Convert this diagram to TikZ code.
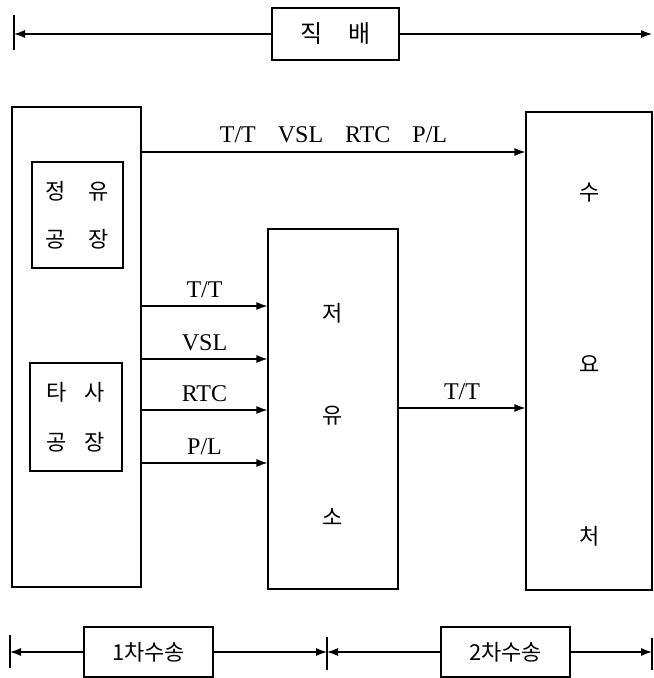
\documentclass[tikz,border=0pt]{standalone}
\usepackage{fontspec}
\setmainfont{Liberation Serif}
\newfontfamily\kr{Noto Sans CJK KR}
\usetikzlibrary{arrows.meta}

\begin{document}
\begin{tikzpicture}[
    x=0.5pt, y=-0.5pt,
    line width=0.6pt,
    % Boxes holding Korean text
    box/.style={
        draw,
        rectangle,
        inner sep=0pt,
        align=center,
        font=\kr\fontsize{11pt}{13pt}\selectfont
    },
    % Transport arrows and their labels
    flow/.style={-{Latex[length=5.5pt,width=4pt]}},
    tag/.style={
        font=\fontsize{12pt}{14pt}\selectfont,
        inner sep=0pt,
        anchor=base,
        yshift=4.5pt
    }
]
    \useasboundingbox (0,0) rectangle (653,678);

    % Supply side
    \node[box, minimum width=64.5pt, minimum height=240pt] (plant) at (76.5,347) {};
    \node[box, minimum width=45.5pt, minimum height=53pt,
          font=\kr\fontsize{11pt}{24pt}\selectfont] (refinery) at (77.5,215)
          {정\hspace{11.5pt}유\\공\hspace{11.5pt}장};
    \node[box, minimum width=46pt, minimum height=54pt,
          font=\kr\fontsize{11pt}{25pt}\selectfont] (others) at (76,417)
          {타\hspace{9pt}사\\공\hspace{9pt}장};

    % Depot and demand
    \node[box, minimum width=65pt, minimum height=180pt] (depot) at (333,409) {};
    \node[align=center, font=\kr\fontsize{11pt}{51pt}\selectfont] (depotText) at (333,414)
        {저\\유\\소};
    \node[box, minimum width=63pt, minimum height=239pt] (demand) at (589,351) {};
    \node[align=center, font=\kr\fontsize{11pt}{86pt}\selectfont] (demandText) at (590,365)
        {수\\요\\처};

    % Direct delivery
    \coordinate (yDirect) at (0,152);
    \draw[flow] (plant.east |- yDirect) -- (demand.west |- yDirect)
        node[tag, midway] {T/T\hspace{11pt}VSL\hspace{11pt}RTC\hspace{11pt}P/L};

    % Plant to depot
    \coordinate (yTT) at (0,306);
    \coordinate (yVSL) at (0,359);
    \coordinate (yRTC) at (0,410);
    \coordinate (yPL) at (0,463);
    \draw[flow] (plant.east |- yTT) -- (depot.west |- yTT) node[tag, midway] {T/T};
    \draw[flow] (plant.east |- yVSL) -- (depot.west |- yVSL) node[tag, midway] {VSL};
    \draw[flow] (plant.east |- yRTC) -- (depot.west |- yRTC) node[tag, midway] {RTC};
    \draw[flow] (plant.east |- yPL) -- (depot.west |- yPL) node[tag, midway] {P/L};

    % Depot to demand
    \coordinate (yTruck) at (0,408);
    \draw[flow] (depot.east |- yTruck) -- (demand.west |- yTruck) node[tag, midway] {T/T};

    % Top span
    \node[box, minimum width=63.5pt, minimum height=26pt,
          font=\kr\fontsize{12pt}{14pt}\selectfont] (direct) at (335.5,34)
        {직\hspace{13pt}배};
    \coordinate (topL) at (14,34);
    \coordinate (topR) at (652,34);
    \draw (14,15) -- (14,50);
    \draw[flow] (direct) -- (topL);
    \draw[flow] (direct) -- (topR);

    % Bottom spans
    \node[box, minimum width=64.5pt, minimum height=25pt] (first) at (148.5,652) {1차수송};
    \node[box, minimum width=64.5pt, minimum height=25pt] (second) at (505.5,652) {2차수송};
    \coordinate (botL) at (10,652);
    \coordinate (botM) at (327,652);
    \coordinate (botR) at (652,652);
    \draw (10,635) -- (10,668);
    \draw (327,637) -- (327,670);
    \draw (652,638) -- (652,670);
    \draw[flow] (first) -- (botL);
    \draw[flow] (first) -- (botM);
    \draw[flow] (second) -- (botM);
    \draw[flow] (second) -- (botR);
\end{tikzpicture}
\end{document}
